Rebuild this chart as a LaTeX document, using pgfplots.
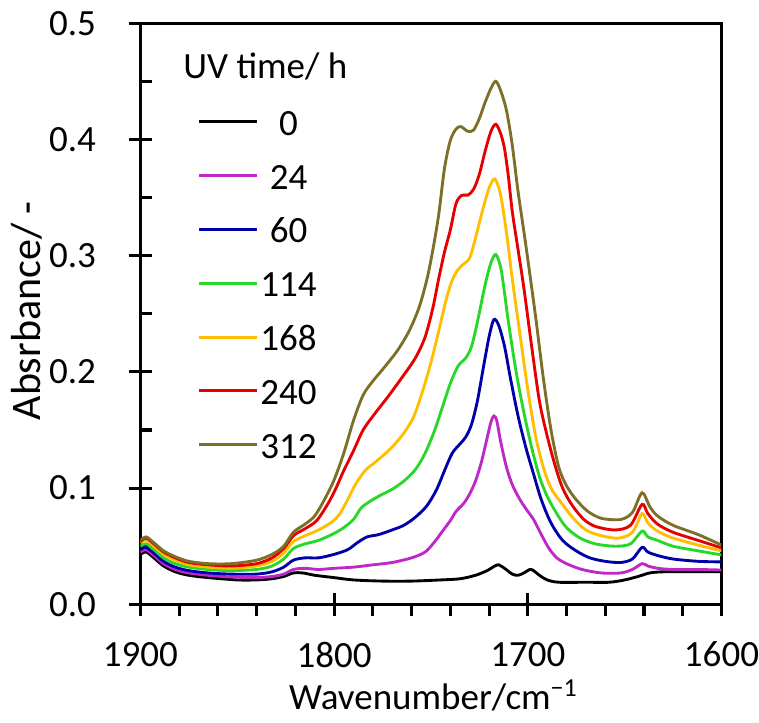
\documentclass[border=0pt]{standalone}
\usepackage{pgfplots}
\pgfplotsset{compat=1.18}
\usepackage{fontspec}
\setmainfont{Carlito}
\definecolor{c0}{RGB}{0,0,0}
\definecolor{c24}{RGB}{190,40,200}
\definecolor{c60}{RGB}{0,0,170}
\definecolor{c114}{RGB}{40,215,40}
\definecolor{c168}{RGB}{255,190,0}
\definecolor{c240}{RGB}{230,0,0}
\definecolor{c312}{RGB}{125,110,40}
\begin{document}
\begin{tikzpicture}
\begin{axis}[
  scale only axis, width=172.8pt, height=172.8pt,
  font=\fontsize{11}{13}\selectfont,
  xmin=1600, xmax=1900, x dir=reverse, ymin=0, ymax=0.5,
  xtick={1600,1700,1800,1900},
  minor xtick={1620,1640,1660,1680,1720,1740,1760,1780,1820,1840,1860,1880},
  ytick={0,0.1,0.2,0.3,0.4,0.5},
  minor ytick={0.05,0.15,0.25,0.35,0.45},
  xtick pos=bottom, ytick pos=left,
  tick align=center,
  major tick length=7pt, minor tick length=3.4pt,
  minor x tick style={yshift=-1.7pt},
  minor y tick style={xshift=1.7pt},
  tick style={black, line width=0.9pt},
  axis line style={black, line width=0.9pt},
  /pgf/number format/assume math mode=true,
  xticklabel style={anchor=north, inner sep=0pt, yshift=-7.5pt, /pgf/number format/.cd, set thousands separator={}},
  yticklabel style={anchor=east, inner sep=0pt, xshift=-9.5pt, /pgf/number format/.cd, fixed, fixed zerofill, precision=1},
  xlabel={Wavenumber/cm\textsuperscript{\char"2212 1}},
  ylabel={Absrbance/ -},
  every axis x label/.style={at={(axis description cs:0.505,-0.181)}, anchor=base},
  every axis y label/.style={at={(axis description cs:-0.172,0.505)}, anchor=base, rotate=90, font=\fontsize{12.5}{14}\selectfont},
  legend style={at={(axis cs:1870.3,0.4267)}, anchor=north west, draw=none, fill=none, inner sep=0pt, outer sep=0pt, row sep=8pt, column sep=0pt, font=\fontsize{11}{13}\selectfont, nodes={inner sep=0pt, text height=8pt, text depth=0pt, text width=18pt, align=center}},
  legend image code/.code={\draw[#1] (0pt,0pt) -- (17.1pt,0pt);},
  every axis plot/.append style={line width=0.85pt, smooth, tension=0.5, mark=none},
]
\addplot[c0] coordinates {(1900,0.043)(1897,0.045)(1893,0.040)(1888,0.033)(1882,0.028)(1875,0.025)(1865,0.023)(1850,0.021)(1840,0.021)(1832,0.022)(1826,0.024)(1821,0.027)(1816,0.027)(1810,0.025)(1800,0.023)(1790,0.021)(1775,0.020)(1760,0.020)(1745,0.021)(1735,0.022)(1727,0.025)(1721,0.029)(1717,0.033)(1715,0.034)(1712,0.031)(1708,0.026)(1705,0.025)(1702,0.027)(1699,0.030)(1697,0.029)(1694,0.025)(1690,0.021)(1684,0.019)(1670,0.019)(1658,0.019)(1650,0.021)(1643,0.024)(1637,0.027)(1630,0.028)(1615,0.028)(1600,0.028)};
\addlegendentry{0}
\addplot[c24] coordinates {(1900,0.045)(1897,0.047)(1893,0.042)(1888,0.035)(1882,0.030)(1875,0.027)(1865,0.025)(1853,0.0235)(1840,0.023)(1832,0.024)(1826,0.026)(1821,0.030)(1815,0.031)(1808,0.030)(1800,0.031)(1790,0.032)(1780,0.034)(1770,0.036)(1760,0.040)(1753,0.045)(1748,0.054)(1744,0.063)(1740,0.072)(1737,0.080)(1733,0.087)(1730,0.095)(1727,0.106)(1724,0.122)(1721,0.143)(1719,0.157)(1717.5,0.162)(1716,0.158)(1714,0.140)(1711,0.118)(1708,0.103)(1704,0.090)(1700,0.080)(1697,0.073)(1693,0.060)(1689,0.048)(1685,0.040)(1680,0.035)(1672,0.030)(1662,0.027)(1652,0.027)(1646,0.030)(1641,0.035)(1638,0.033)(1633,0.031)(1625,0.030)(1612,0.030)(1600,0.0295)};
\addlegendentry{24}
\addplot[c60] coordinates {(1900,0.047)(1897,0.049)(1893,0.044)(1888,0.037)(1882,0.032)(1875,0.029)(1865,0.027)(1853,0.026)(1840,0.026)(1832,0.028)(1826,0.032)(1821,0.038)(1815,0.040)(1808,0.040)(1800,0.043)(1793,0.047)(1788,0.053)(1783,0.058)(1777,0.060)(1770,0.064)(1764,0.068)(1758,0.075)(1752,0.085)(1747,0.099)(1743,0.115)(1739,0.130)(1735,0.138)(1732,0.144)(1729,0.155)(1726,0.175)(1723,0.203)(1720,0.230)(1717.5,0.245)(1715,0.240)(1712,0.222)(1709,0.195)(1705,0.162)(1701,0.135)(1697,0.112)(1693,0.090)(1688,0.070)(1682,0.055)(1675,0.046)(1668,0.040)(1660,0.037)(1652,0.036)(1646,0.039)(1641,0.049)(1638,0.045)(1633,0.042)(1625,0.039)(1612,0.037)(1600,0.0365)};
\addlegendentry{60}
\addplot[c114] coordinates {(1900,0.050)(1897,0.052)(1893,0.047)(1888,0.040)(1882,0.035)(1875,0.032)(1865,0.030)(1853,0.029)(1840,0.030)(1832,0.033)(1826,0.039)(1821,0.048)(1815,0.052)(1808,0.055)(1800,0.061)(1795,0.066)(1790,0.073)(1786,0.083)(1782,0.088)(1777,0.093)(1770,0.099)(1764,0.106)(1758,0.116)(1753,0.130)(1748,0.150)(1744,0.170)(1740,0.190)(1736,0.205)(1732,0.212)(1729,0.222)(1726,0.243)(1722,0.275)(1719,0.294)(1716.5,0.301)(1714,0.290)(1712,0.268)(1710,0.243)(1706,0.200)(1702,0.165)(1698,0.135)(1694,0.110)(1690,0.093)(1685,0.078)(1680,0.066)(1673,0.057)(1665,0.052)(1655,0.050)(1647,0.052)(1641,0.063)(1638,0.058)(1633,0.055)(1625,0.050)(1612,0.046)(1600,0.0425)};
\addlegendentry{114}
\addplot[c168] coordinates {(1900,0.053)(1897,0.055)(1893,0.050)(1888,0.043)(1882,0.038)(1875,0.034)(1865,0.032)(1853,0.031)(1840,0.033)(1832,0.037)(1826,0.044)(1821,0.054)(1815,0.059)(1808,0.064)(1801,0.071)(1797,0.078)(1793,0.090)(1789,0.103)(1784,0.115)(1779,0.122)(1772,0.132)(1765,0.145)(1759,0.161)(1754,0.185)(1750,0.208)(1746,0.235)(1742,0.263)(1739,0.279)(1736,0.288)(1733,0.293)(1730,0.298)(1727,0.315)(1723.5,0.338)(1720,0.358)(1717,0.366)(1714,0.352)(1711,0.320)(1708,0.280)(1704,0.232)(1700,0.185)(1696,0.145)(1692,0.118)(1688,0.100)(1683,0.088)(1677,0.075)(1670,0.064)(1662,0.059)(1653,0.057)(1646,0.062)(1641,0.078)(1638,0.070)(1633,0.063)(1625,0.057)(1612,0.051)(1600,0.046)};
\addlegendentry{168}
\addplot[c240] coordinates {(1900,0.054)(1897,0.057)(1893,0.052)(1888,0.045)(1882,0.040)(1875,0.036)(1865,0.034)(1853,0.033)(1840,0.035)(1832,0.040)(1826,0.048)(1821,0.059)(1815,0.065)(1809,0.072)(1803,0.087)(1799,0.100)(1795,0.115)(1790,0.132)(1785,0.150)(1779,0.164)(1772,0.179)(1765,0.195)(1758,0.212)(1753,0.230)(1749,0.255)(1746,0.280)(1743,0.303)(1740,0.322)(1737,0.345)(1734,0.352)(1731,0.352)(1728,0.357)(1725,0.370)(1722,0.390)(1719,0.407)(1716.5,0.413)(1714,0.405)(1712,0.392)(1710,0.368)(1708,0.338)(1705,0.305)(1702,0.272)(1698,0.222)(1694,0.175)(1690,0.145)(1686,0.120)(1682,0.100)(1677,0.085)(1671,0.073)(1665,0.067)(1655,0.064)(1647,0.068)(1641,0.086)(1638,0.078)(1633,0.069)(1625,0.062)(1612,0.055)(1600,0.0486)};
\addlegendentry{240}
\addplot[c312] coordinates {(1900,0.055)(1897,0.058)(1893,0.053)(1888,0.046)(1882,0.041)(1875,0.037)(1865,0.035)(1853,0.035)(1840,0.038)(1832,0.043)(1826,0.050)(1821,0.062)(1815,0.069)(1810,0.076)(1805,0.090)(1800,0.107)(1795,0.130)(1790,0.158)(1785,0.180)(1780,0.192)(1774,0.204)(1767,0.219)(1761,0.236)(1756,0.256)(1752,0.280)(1749,0.305)(1746,0.335)(1743,0.375)(1740,0.399)(1737,0.409)(1734.5,0.411)(1731,0.407)(1728,0.408)(1725,0.418)(1722,0.432)(1719,0.444)(1716.5,0.450)(1714,0.442)(1711,0.425)(1708,0.395)(1705,0.355)(1701,0.309)(1696,0.248)(1692,0.195)(1688,0.150)(1684,0.118)(1680,0.102)(1675,0.090)(1669,0.080)(1662,0.074)(1652,0.073)(1646,0.079)(1641,0.096)(1637,0.084)(1633,0.076)(1625,0.068)(1612,0.060)(1600,0.051)};
\addlegendentry{312}
\node[anchor=base west, inner sep=0pt, font=\fontsize{11}{13}\selectfont] at (axis cs:1878.1,0.4523) {UV time/ h};
\coordinate (topleft) at (rel axis cs:0,1);
\end{axis}
\path ([yshift=6.9pt]topleft) -- ([yshift=6.9pt,xshift=10pt]topleft);
\end{tikzpicture}
\end{document}
